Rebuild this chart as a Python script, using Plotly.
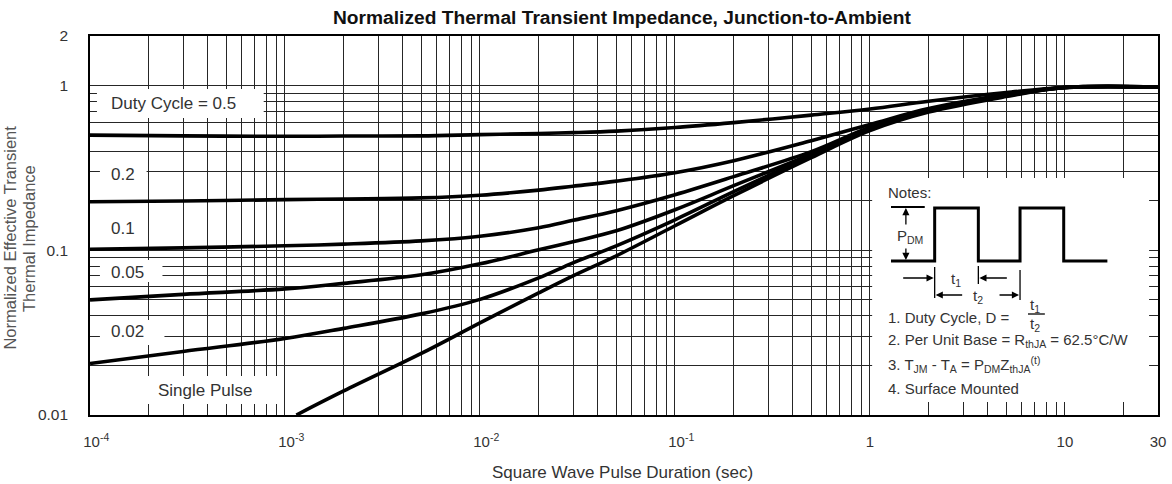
import math
import plotly.graph_objects as go

# Pulse duration samples (s) for the duty-cycle curves
t_duty = [1e-4, 3e-4, 1e-3, 2e-3, 5e-3, 1e-2, 2e-2, 3e-2, 5e-2, 0.1, 0.2, 0.5, 1, 2, 5, 10, 30]

# Normalized transient impedance for each duty cycle
z_d050 = [0.500, 0.495, 0.492, 0.494, 0.495, 0.504, 0.512, 0.518, 0.529, 0.556, 0.596, 0.662, 0.720, 0.803, 0.907, 0.973, 0.979]
z_d020 = [0.197, 0.199, 0.203, 0.205, 0.208, 0.216, 0.232, 0.245, 0.263, 0.296, 0.350, 0.463, 0.580, 0.725, 0.882, 0.973, 0.979]
z_d010 = [0.1014, 0.1035, 0.1065, 0.109, 0.114, 0.1217, 0.137, 0.152, 0.174, 0.2175, 0.280, 0.397, 0.559, 0.715, 0.876, 0.973, 0.979]
z_d005 = [0.0500, 0.0540, 0.0583, 0.0630, 0.0710, 0.0828, 0.1007, 0.1127, 0.1313, 0.1763, 0.2467, 0.383, 0.548, 0.705, 0.870, 0.973, 0.979]
z_d002 = [0.02056, 0.02432, 0.02917, 0.03357, 0.04111, 0.05036, 0.06806, 0.08395, 0.1065, 0.1532, 0.2268, 0.3753, 0.544, 0.700, 0.864, 0.973, 0.979]

# Single pulse curve
t_single = [1.144e-3, 2e-3, 5e-3, 1e-2, 2e-2, 3e-2, 5e-2, 0.1, 0.2, 0.5, 1, 2, 5, 10, 30]
z_single = [0.0100, 0.01399, 0.02365, 0.03625, 0.05515, 0.06998, 0.09261, 0.1409, 0.2145, 0.3649, 0.5326, 0.6901, 0.8574, 0.973, 0.979]

# Axis ticks
x_tick_vals = [k * 10.0 ** e for e in range(-4, 1) for k in range(1, 10)] + [10, 20, 30]
PAD = "\u00a0\u00a0\u00a0"
x_tick_labels = {1e-4: PAD + "10<sup>-4</sup>", 1e-3: PAD + "10<sup>-3</sup>",
                 1e-2: PAD + "10<sup>-2</sup>", 1e-1: PAD + "10<sup>-1</sup>",
                 1: "1", 10: "10", 30: "30"}
y_tick_vals = [k * 10.0 ** e for e in range(-2, 0) for k in range(1, 10)] + [1, 2]
y_tick_labels = {0.01: "0.01", 0.1: "0.1", 1: "1", 2: "2"}


def label_for(v, table):
    for key, txt in table.items():
        if abs(v - key) < key * 1e-6:
            return txt
    return ""


# Plot area in pixels
PL, PT, PW, PH = 90, 36, 1076, 379


def fx(px):
    return (px - PL) / PW


def fy(py):
    return (PT + PH - py) / PH


FONT = "Liberation Sans, Arial, sans-serif"
TXT = "#333333"

fig = go.Figure()
curves = [(t_duty, z_d050), (t_duty, z_d020), (t_duty, z_d010),
          (t_duty, z_d005), (t_duty, z_d002), (t_single, z_single)]
for tx, zy in curves:
    fig.add_trace(go.Scatter(x=tx, y=zy, mode="lines",
                             line=dict(color="black", width=3.6, shape="spline", smoothing=1.0),
                             hoverinfo="skip", showlegend=False))

shapes = []
annotations = []


def white_box(x0, y0, x1, y1):
    shapes.append(dict(type="rect", xref="paper", yref="paper",
                       x0=fx(x0), x1=fx(x1), y0=fy(y1), y1=fy(y0),
                       fillcolor="white", line=dict(width=0), layer="above"))


def text(px, py, s, size=17, xanchor="left", color=TXT, angle=0):
    annotations.append(dict(xref="paper", yref="paper", x=fx(px), y=fy(py), text=s,
                            showarrow=False, xanchor=xanchor, yanchor="middle", textangle=angle,
                            font=dict(family=FONT, size=size, color=color)))


# Curve labels on white patches
white_box(97, 89, 265, 118)
text(109, 104, "Duty Cycle = 0.5")
white_box(100, 162, 147, 185)
text(109, 175, "0.2")
text(109, 228, "0.1")
white_box(100, 260, 163, 282)
text(109, 272, "0.05")
white_box(100, 320, 165, 345)
text(109, 331, "0.02")
white_box(147, 376, 280, 404)
text(156, 390, "Single Pulse")

# Notes panel
white_box(878, 178, 1157, 402)
NS = 15
text(892, 193, "Notes:", NS)
wave = [(897, 261), (941, 261), (941, 208), (985, 208), (985, 261), (1027, 261),
        (1027, 208), (1071, 208), (1071, 261), (1115, 261)]
path = "M " + " L ".join(f"{fx(a):.5f},{fy(b):.5f}" for a, b in wave)
shapes.append(dict(type="path", xref="paper", yref="paper", path=path,
                   line=dict(color="black", width=3), layer="above"))


def seg(x0, y0, x1, y1, w=1.3):
    shapes.append(dict(type="line", xref="paper", yref="paper",
                       x0=fx(x0), y0=fy(y0), x1=fx(x1), y1=fy(y1),
                       line=dict(color="black", width=w), layer="above"))


seg(897, 207, 931, 207, 2.2)
seg(941, 267, 941, 298)
seg(985, 266, 985, 284)
seg(1027, 270, 1027, 300)
seg(1035, 314, 1052, 314)


def arrow(hx, hy, tx_, ty_):
    annotations.append(dict(xref="paper", yref="paper", x=fx(hx), y=fy(hy), text="",
                            showarrow=True, arrowhead=2, arrowsize=1.1, arrowwidth=1.3,
                            arrowcolor="black", ax=tx_ - hx, ay=ty_ - hy, standoff=0))


arrow(912, 208, 912, 226)
arrow(912, 260, 912, 247)
arrow(940, 278, 908, 278)
arrow(986, 278, 1015, 278)
arrow(942, 295, 970, 295)
arrow(1026, 295, 1005, 295)

text(916, 236, "P<sub>DM</sub>", NS, "center")
text(962, 279, "t<sub>1</sub>", NS, "center")
text(985, 296, "t<sub>2</sub>", NS, "center")
text(892, 317, "1. Duty Cycle, D =", NS)
text(1042, 305, "t<sub>1</sub>", NS, "center")
text(1042, 324, "t<sub>2</sub>", NS, "center")
text(892, 340, "2. Per Unit Base = R<sub>thJA</sub> = 62.5\u00b0C/W", NS)
text(892, 364, "3. T<sub>JM</sub> - T<sub>A</sub> = P<sub>DM</sub>Z<sub>thJA</sub><sup>(t)</sup>", NS)
text(892, 388, "4. Surface Mounted", NS)

# Titles
text(626, 17, "<b>Normalized Thermal Transient Impedance, Junction-to-Ambient</b>", 19.2, "center", "#111111")
text(626, 472, "Square Wave Pulse Duration (sec)", 17, "center")
text(9, 238, "Normalized Effective Transient", 16.5, "center", "#555555", -90)
text(28.5, 238, "Thermal Impedance", 16.5, "center", "#555555", -90)

grid = dict(showgrid=True, gridcolor="#262626", gridwidth=1.4,
            showline=True, linecolor="black", linewidth=1.6, mirror=True,
            ticks="", zeroline=False, ticklabeloverflow="allow")

fig.update_layout(
    width=1172, height=484,
    margin=dict(l=PL, r=1172 - PL - PW, t=PT, b=484 - PT - PH),
    paper_bgcolor="white", plot_bgcolor="white",
    xaxis=dict(type="log", range=[-4, math.log10(30)],
               tickvals=x_tick_vals, ticktext=[label_for(v, x_tick_labels) for v in x_tick_vals],
               tickfont=dict(family=FONT, size=15, color=TXT), ticklabelstandoff=12, **grid),
    yaxis=dict(type="log", range=[-2, math.log10(2)],
               tickvals=y_tick_vals, ticktext=[label_for(v, y_tick_labels) for v in y_tick_vals],
               tickfont=dict(family=FONT, size=15.5, color=TXT), ticklabelstandoff=17, **grid),
    shapes=shapes, annotations=annotations,
)

fig.write_html("out.html")
